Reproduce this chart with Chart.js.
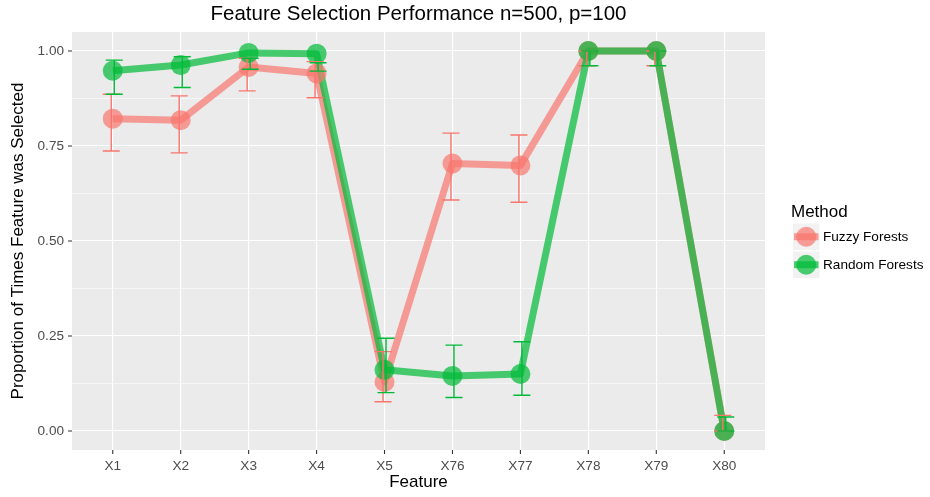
<!DOCTYPE html>
<html><head><meta charset="utf-8">
<script src="https://cdn.jsdelivr.net/npm/chart.js@4"></script>
<style>html,body{margin:0;padding:0;background:#fff}</style>
</head><body>
<canvas id="c" width="930" height="497" style="width:930px;height:497px;display:block"></canvas>
<script>
const categories = ['X1','X2','X3','X4','X5','X76','X77','X78','X79','X80'];
const fuzzy      = [0.822, 0.818, 0.958, 0.941, 0.129, 0.704, 0.699, 1.000, 1.000, 0.000];
const fuzzyLow   = [0.737, 0.732, 0.895, 0.877, 0.077, 0.608, 0.602, 0.961, 0.961, 0.000];
const fuzzyHigh  = [0.886, 0.882, 0.981, 0.972, 0.209, 0.784, 0.779, 1.000, 1.000, 0.041];
const random     = [0.948, 0.963, 0.995, 0.993, 0.161, 0.145, 0.150, 1.000, 1.000, 0.000];
const randomLow  = [0.886, 0.904, 0.952, 0.947, 0.101, 0.088, 0.094, 0.961, 0.961, 0.000];
const randomHigh = [0.976, 0.985, 0.981, 0.969, 0.244, 0.226, 0.235, 1.000, 1.000, 0.037];
const yMajor = [0, 0.25, 0.5, 0.75, 1];
const yMajorLabels = ['0.00','0.25','0.50','0.75','1.00'];
const yMinor = [0.125, 0.375, 0.625, 0.875];
const seriesNames = ['Fuzzy Forests','Random Forests'];

const FONT = '"Liberation Sans", Arial, Helvetica, sans-serif';
const RED = 'rgba(248,118,109,0.7)', GREEN = 'rgba(0,186,56,0.7)';
const RED_S = '#F8766D', GREEN_S = '#00BA38';

const pts = arr => arr.map((v,i)=>({x:i+1, y:v}));
const isMajor = v => yMajor.some(m => Math.abs(m - v) < 1e-6);

const bgPlugin = {
  id:'bg',
  beforeDraw(chart){
    const {ctx, chartArea:a} = chart;
    ctx.save();
    ctx.fillStyle = '#fff'; ctx.fillRect(0,0,chart.width,chart.height);
    ctx.fillStyle = '#EBEBEB'; ctx.fillRect(a.left, a.top, a.right-a.left, a.bottom-a.top);
    ctx.restore();
  }
};

const errPlugin = {
  id:'err',
  afterDatasetsDraw(chart){
    const {ctx, scales:{x,y}} = chart;
    const sets = [[fuzzyLow, fuzzyHigh, RED_S, -1.5],[randomLow, randomHigh, GREEN_S, 1.5]];
    ctx.save();
    ctx.lineWidth = 1.4;
    sets.forEach(([lo, hi, col, dx])=>{
      ctx.strokeStyle = col;
      lo.forEach((l,i)=>{
        const px = x.getPixelForValue(i+1) + dx;
        const y1 = y.getPixelForValue(l), y2 = y.getPixelForValue(hi[i]);
        const w = 8.5;
        ctx.beginPath();
        ctx.moveTo(px, y1); ctx.lineTo(px, y2);
        ctx.moveTo(px-w, y1); ctx.lineTo(px+w, y1);
        ctx.moveTo(px-w, y2); ctx.lineTo(px+w, y2);
        ctx.stroke();
      });
    });
    ctx.restore();
  }
};

const textPlugin = {
  id:'texts',
  afterDraw(chart){
    const {ctx, chartArea:a, scales:{x,y}} = chart;
    ctx.save();
    // tick marks
    ctx.strokeStyle = '#333333'; ctx.lineWidth = 1.1;
    ctx.beginPath();
    yMajor.forEach(v=>{ const py = y.getPixelForValue(v); ctx.moveTo(a.left-4, py); ctx.lineTo(a.left, py); });
    categories.forEach((c,i)=>{ const px = x.getPixelForValue(i+1); ctx.moveTo(px, a.bottom); ctx.lineTo(px, a.bottom+4); });
    ctx.stroke();
    const cx = (a.left + a.right)/2;
    ctx.fillStyle = '#000';
    ctx.textAlign = 'center'; ctx.textBaseline = 'middle';
    ctx.font = '20.5px ' + FONT;
    ctx.fillText('Feature Selection Performance n=500, p=100', cx, 14);
    ctx.font = '17px ' + FONT;
    ctx.fillText('Feature', cx, 482);
    ctx.save();
    ctx.translate(18, (a.top + a.bottom)/2);
    ctx.rotate(-Math.PI/2);
    ctx.fillText('Proportion of Times Feature was Selected', 0, 0);
    ctx.restore();
    // legend
    ctx.textAlign = 'left'; ctx.textBaseline = 'alphabetic';
    ctx.font = '17px ' + FONT;
    ctx.fillText('Method', 791, 217);
    const keys = [[RED, 223.5], [GREEN, 251.5]];
    keys.forEach(([col, top], k)=>{
      const L = 793, W = 26.5, H = 26.5, cy = top + H/2;
      ctx.fillStyle = '#F2F2F2'; ctx.fillRect(L, top, W, H);
      ctx.strokeStyle = col; ctx.lineWidth = 7; ctx.lineCap = 'butt';
      ctx.beginPath(); ctx.moveTo(L+1, cy); ctx.lineTo(L+W-1, cy); ctx.stroke();
      ctx.fillStyle = col;
      ctx.beginPath(); ctx.arc(L+W/2, cy, 10, 0, Math.PI*2); ctx.fill();
      ctx.fillStyle = '#000'; ctx.font = '13.6px ' + FONT; ctx.textBaseline = 'middle';
      ctx.fillText(seriesNames[k], 823, cy);
      ctx.textBaseline = 'alphabetic';
    });
    ctx.restore();
  }
};

new Chart(document.getElementById('c'), {
  type:'line',
  data:{ datasets:[
    {label:seriesNames[0], data:pts(fuzzy), borderColor:RED, borderWidth:7, pointRadius:0, borderJoinStyle:'round', tension:0, order:4, fill:false},
    {label:seriesNames[1], data:pts(random), borderColor:GREEN, borderWidth:7, pointRadius:0, borderJoinStyle:'round', tension:0, order:3, fill:false},
    {label:seriesNames[0]+' pts', data:pts(fuzzy), showLine:false, pointRadius:10, pointBackgroundColor:RED, pointBorderWidth:0, pointBorderColor:'rgba(0,0,0,0)', order:2},
    {label:seriesNames[1]+' pts', data:pts(random), showLine:false, pointRadius:10, pointBackgroundColor:GREEN, pointBorderWidth:0, pointBorderColor:'rgba(0,0,0,0)', order:1}
  ]},
  options:{
    responsive:false, animation:false, devicePixelRatio:1,
    layout:{padding:{top:32, right:165, bottom:0, left:0}},
    plugins:{legend:{display:false}, title:{display:false}, tooltip:{enabled:false}},
    scales:{
      x:{ type:'linear', min:0.4, max:10.6,
        afterBuildTicks: s => { s.ticks = categories.map((c,i)=>({value:i+1})); },
        afterFit: s => { s.height = 47; },
        grid:{color:'#FFFFFF', lineWidth:1.1, drawTicks:false},
        border:{display:false},
        ticks:{ autoSkip:false, maxRotation:0, padding:8, color:'#4D4D4D', font:{family:FONT, size:13.6},
          callback: v => categories[Math.round(v)-1] }
      },
      y:{ type:'linear', min:-0.05, max:1.05,
        afterBuildTicks: s => { s.ticks = yMajor.concat(yMinor).sort((a,b)=>a-b).map(v=>({value:v})); },
        afterFit: s => { s.width = 72; },
        grid:{color:'#FFFFFF', lineWidth: c => isMajor(c.tick.value) ? 1.1 : 0.55, drawTicks:false},
        border:{display:false},
        ticks:{ autoSkip:false, padding:8, color:'#4D4D4D', font:{family:FONT, size:13.6},
          callback: v => { const i = yMajor.findIndex(m=>Math.abs(m-v)<1e-6); return i>=0 ? yMajorLabels[i] : ''; } }
      }
    }
  },
  plugins:[bgPlugin, errPlugin, textPlugin]
});
</script>
</body></html>
